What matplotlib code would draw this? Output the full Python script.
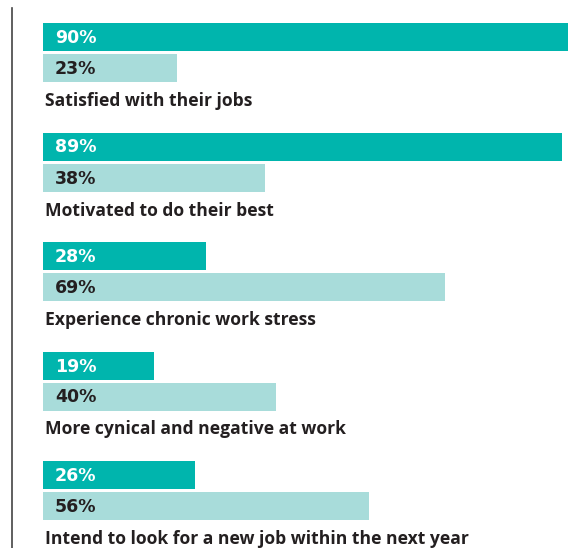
import matplotlib
matplotlib.use("Agg")
import matplotlib.pyplot as plt

# ----------- data -----------
categories = [
    "Satisfied with their jobs",
    "Motivated to do their best",
    "Experience chronic work stress",
    "More cynical and negative at work",
    "Intend to look for a new job within the next year",
]
dark_values = [90, 89, 28, 19, 26]
light_values = [23, 38, 69, 40, 56]

dark_color = "#00B5AD"
light_color = "#A8DCDA"
text_color = "#231F20"
# -------- end of data -----

W, H = 568, 548
px_per_pct = 5.83
x0 = 43  # pixel where bars start

fig = plt.figure(figsize=(W / 100, H / 100), dpi=100)
ax = fig.add_axes([0, 0, 1, 1])
ax.set_xlim(-x0 / px_per_pct, (W - x0) / px_per_pct)
ax.set_ylim(H, 0)
ax.axis("off")

label_font = ["Open Sans", "DejaVu Sans"]
pct_font = ["DejaVu Sans"]
top0, step, bar_h, gap = 23, 109.5, 28, 3

for i, (cat, d, l) in enumerate(zip(categories, dark_values, light_values)):
    top = top0 + i * step
    yd = top + bar_h / 2
    yl = top + bar_h + gap + bar_h / 2
    ax.barh(yd, d, height=bar_h, color=dark_color, left=0)
    ax.barh(yl, l, height=bar_h, color=light_color, left=0)
    ax.text(12 / px_per_pct, yd + 1, f"{d}%", color="white", fontsize=12.5,
            fontweight="bold", va="center", ha="left", family=pct_font)
    ax.text(12 / px_per_pct, yl + 1, f"{l}%", color=text_color, fontsize=12.5,
            fontweight="bold", va="center", ha="left", family=pct_font)
    ax.text(2 / px_per_pct, top + 83, cat, color=text_color, fontsize=12.6,
            fontweight="bold", va="baseline", ha="left", family=label_font)

# left rule
lx = (12 - x0) / px_per_pct
ax.plot([lx, lx], [8, H], color="#444444", lw=1.2, clip_on=False)

fig.savefig("out.png", dpi=100)
